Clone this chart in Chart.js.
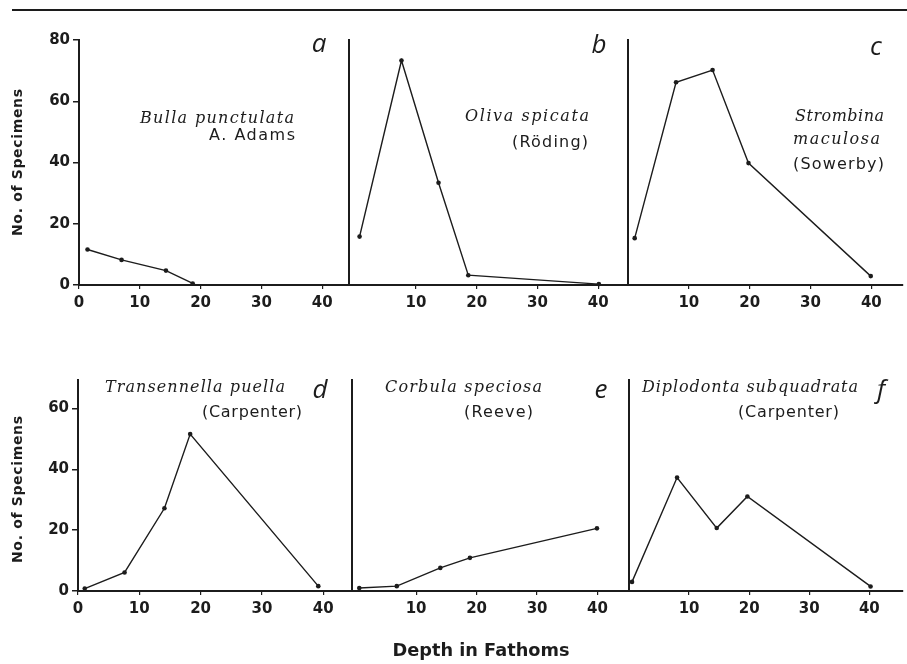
<!DOCTYPE html>
<html>
<head>
<meta charset="utf-8">
<script src="https://cdn.jsdelivr.net/npm/chart.js@4.4.1/dist/chart.umd.min.js"></script>
<style>
  body { margin: 0; background: #fff; }
  #figure { position: relative; width: 907px; height: 664px; overflow: hidden; }
  #figure canvas { position: absolute; left: 0; top: 0; }
  #rule { position: absolute; left: 12px; top: 9px; width: 895px; height: 2px; background: #1c1c1c; }
</style>
</head>
<body>
<div id="figure">
  <div id="rule"></div>
  <canvas id="panel-a" width="907" height="664"></canvas>
  <canvas id="panel-b" width="907" height="664"></canvas>
  <canvas id="panel-c" width="907" height="664"></canvas>
  <canvas id="panel-d" width="907" height="664"></canvas>
  <canvas id="panel-e" width="907" height="664"></canvas>
  <canvas id="panel-f" width="907" height="664"></canvas>
</div>
<script>
'use strict'

/* ------------------------------ Data ------------------------------ */

// depth in fathoms / number of specimens
const depthA = [1.4, 7.0, 14.3, 18.7]
const countA = [11.6, 8.2, 4.7, 0.5]
const depthB = [0.7, 7.6, 13.7, 18.6, 40.1]
const countB = [15.8, 73.3, 33.4, 3.2, 0.3]
const depthC = [1.1, 7.9, 13.9, 19.8, 39.9]
const countC = [15.3, 66.2, 70.2, 39.8, 2.9]
const depthD = [1.1, 7.6, 14.1, 18.3, 39.2]
const countD = [0.8, 6.1, 27.2, 51.6, 1.6]
const depthE = [0.6, 6.8, 14.0, 18.9, 39.9]
const countE = [1.0, 1.6, 7.6, 10.9, 20.6]
const depthF = [0.5, 8.0, 14.6, 19.7, 40.2]
const countF = [3.0, 37.3, 20.7, 31.1, 1.5]

const xTicksFirst = [0, 10, 20, 30, 40]
const xTicksRest = [10, 20, 30, 40]
const yTicksTop = [0, 20, 40, 60, 80]
const yTicksBottom = [0, 20, 40, 60]

const panelLetters = ['a', 'b', 'c', 'd', 'e', 'f']
const speciesLines = [
  ['Bulla punctulata'],
  ['Oliva spicata'],
  ['Strombina', 'maculosa'],
  ['Transennella puella'],
  ['Corbula speciosa'],
  ['Diplodonta subquadrata']
]
const authors = ['A. Adams', '(Röding)', '(Sowerby)', '(Carpenter)', '(Reeve)', '(Carpenter)']
const yTitle = 'No. of Specimens'
const xTitle = 'Depth in Fathoms'

/* ------------------------------ Layout ------------------------------ */

const W = 907
const H = 664
const ink = '#1c1c1c'
const tickFont = { family: 'DejaVu Sans', size: 15, weight: 'bold' }
const Y_AXIS_W = 40 // room for the y tick labels (panels a and d)
const X_AXIS_H = 30 // room for the x tick labels

// area = plot box in page pixels, text = [left, right, baseline] per name line
const panels = [
  {
    depth: depthA, count: countA, xTicks: xTicksFirst, yTicks: yTicksTop,
    area: { left: 79, right: 349, top: 40, bottom: 285 }, xMin: 0, xMax: 44.4, yMax: 80,
    letter: [319, 52], text: [[140, 294, 123], [209, 295, 140]], yTitleAt: [18, 163]
  },
  {
    depth: depthB, count: countB, xTicks: xTicksRest, yTicks: null,
    area: { left: 349, right: 628, top: 40, bottom: 285 }, xMin: -1.04, xMax: 44.9, yMax: 80,
    letter: [599, 53], text: [[465, 589, 121], [512, 588, 147]]
  },
  {
    depth: depthC, count: countC, xTicks: xTicksRest, yTicks: null,
    area: { left: 628, right: 907, top: 40, bottom: 285 }, xMin: 0, xMax: 45.2, yMax: 80,
    letter: [876, 55], text: [[795, 884, 121], [793, 880, 144], [793, 884, 169]]
  },
  {
    depth: depthD, count: countD, xTicks: xTicksFirst, yTicks: yTicksBottom,
    area: { left: 78, right: 352, top: 380, bottom: 591 }, xMin: 0, xMax: 44.7, yMax: 69.4,
    letter: [320, 398], text: [[105, 285, 392], [202, 302, 417]], yTitleAt: [18, 490]
  },
  {
    depth: depthE, count: countE, xTicks: xTicksRest, yTicks: null,
    area: { left: 352, right: 629, top: 380, bottom: 591 }, xMin: -0.6, xMax: 45.2, yMax: 69.4,
    letter: [601, 398], text: [[385, 542, 392], [464, 533, 417]], xTitleAt: [481, 656, 177]
  },
  {
    depth: depthF, count: countF, xTicks: xTicksRest, yTicks: null,
    area: { left: 629, right: 907, top: 380, bottom: 591 }, xMin: 0, xMax: 45.6, yMax: 69.4,
    letter: [881, 398], text: [[642, 858, 392], [738, 839, 417]]
  }
]

/* ------------------------------ Text helpers ------------------------------ */

// draw text spread (or squeezed) so it spans left..right
function drawSpanned (ctx, text, font, left, right, baseline) {
  ctx.save()
  ctx.font = font
  ctx.letterSpacing = '0px'
  ctx.textAlign = 'left'
  const natural = ctx.measureText(text).width
  const target = right - left
  const spacing = (target - natural) / Math.max(text.length - 1, 1)
  if (spacing >= 0) {
    ctx.letterSpacing = spacing + 'px'
    ctx.fillText(text, left, baseline)
  } else {
    ctx.translate(left, baseline)
    ctx.scale(target / natural, 1)
    ctx.fillText(text, 0, 0)
  }
  ctx.restore()
}

function textPlugin (p, i) {
  return {
    id: 'panelText' + i,
    afterDraw (chart) {
      const ctx = chart.ctx
      ctx.save()
      ctx.fillStyle = ink
      ctx.textBaseline = 'alphabetic'

      ctx.font = 'italic 26px "Open Sans"'
      ctx.textAlign = 'center'
      ctx.fillText(panelLetters[i], p.letter[0], p.letter[1])

      const lines = speciesLines[i]
      lines.forEach((line, k) => {
        const box = p.text[k]
        drawSpanned(ctx, line, 'italic 16px "DejaVu Serif"', box[0], box[1], box[2])
      })
      const ab = p.text[lines.length]
      drawSpanned(ctx, authors[i], '16px "DejaVu Sans"', ab[0], ab[1], ab[2])

      if (p.yTitleAt) {
        ctx.save()
        ctx.translate(p.yTitleAt[0], p.yTitleAt[1])
        ctx.rotate(-Math.PI / 2)
        ctx.textBaseline = 'middle'
        drawSpanned(ctx, yTitle, 'bold 14px "DejaVu Sans"', -73, 74, 0)
        ctx.restore()
      }
      if (p.xTitleAt) {
        const [cx, by, w] = p.xTitleAt
        drawSpanned(ctx, xTitle, 'bold 18px "DejaVu Sans"', cx - w / 2, cx + w / 2, by)
      }
      ctx.restore()
    }
  }
}

/* ------------------------------ Charts ------------------------------ */

function makePanel (p, i) {
  const canvas = document.getElementById('panel-' + panelLetters[i])
  const points = p.depth.map((d, k) => ({ x: d, y: p.count[k] }))
  const hasY = Array.isArray(p.yTicks)
  const yWidth = hasY ? Y_AXIS_W : 0

  return new Chart(canvas, {
    type: 'line',
    data: {
      datasets: [{
        data: points,
        borderColor: ink,
        borderWidth: 1.4,
        pointRadius: 2.3,
        pointBackgroundColor: ink,
        pointBorderWidth: 0,
        tension: 0,
        clip: false
      }]
    },
    options: {
      responsive: false,
      animation: false,
      events: [],
      layout: {
        padding: {
          left: p.area.left - yWidth,
          top: p.area.top,
          right: W - p.area.right,
          bottom: H - p.area.bottom - X_AXIS_H
        }
      },
      plugins: { legend: { display: false }, tooltip: { enabled: false } },
      scales: {
        x: {
          type: 'linear',
          min: p.xMin,
          max: p.xMax,
          afterFit: s => { s.height = X_AXIS_H },
          afterBuildTicks: s => { s.ticks = p.xTicks.map(v => ({ value: v })) },
          grid: { drawOnChartArea: false, tickLength: 4, color: ink, lineWidth: 1.2 },
          border: { color: ink, width: 2 },
          ticks: { color: ink, font: tickFont, padding: 5, maxRotation: 0, autoSkip: false }
        },
        y: {
          type: 'linear',
          min: 0,
          max: p.yMax,
          afterFit: s => { s.width = yWidth },
          afterBuildTicks: s => { s.ticks = (p.yTicks || []).map(v => ({ value: v })) },
          grid: { display: hasY, drawOnChartArea: false, tickLength: 6, color: ink, lineWidth: 1.5 },
          border: { color: ink, width: 2 },
          ticks: { display: hasY, color: ink, font: tickFont, padding: 3, autoSkip: false }
        }
      }
    },
    plugins: [textPlugin(p, i)]
  })
}

panels.forEach(makePanel)
</script>
</body>
</html>
